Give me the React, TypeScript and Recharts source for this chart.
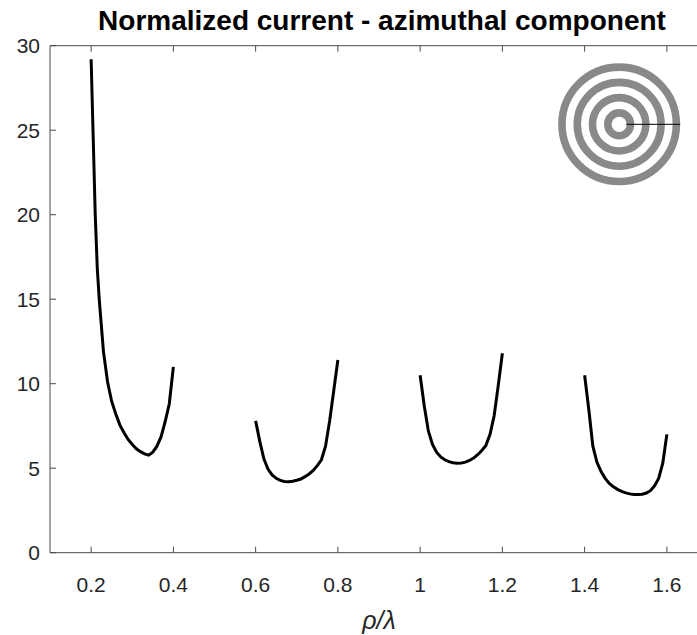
import React from "react";
import { LineChart, Line, XAxis, YAxis, ReferenceDot } from "recharts";

const title = "Normalized current - azimuthal component";
const xLabel = "ρ/λ";

const xTicks = [0.2, 0.4, 0.6, 0.8, 1, 1.2, 1.4, 1.6];
const yTicks = [0, 5, 10, 15, 20, 25, 30];

const xs1 = [0.2, 0.205, 0.21, 0.215, 0.22, 0.23, 0.24, 0.25, 0.26, 0.27, 0.28, 0.29, 0.3, 0.31, 0.32, 0.33, 0.34, 0.35, 0.36, 0.37, 0.38, 0.39, 0.4];
const v1 = [29.2, 24.6, 20.0, 16.8, 14.9, 11.9, 10.1, 8.95, 8.2, 7.55, 7.1, 6.7, 6.4, 6.15, 5.98, 5.85, 5.77, 5.95, 6.3, 6.85, 7.75, 8.8, 11.0];

const xs2 = [0.6, 0.61, 0.62, 0.63, 0.64, 0.65, 0.66, 0.67, 0.68, 0.69, 0.7, 0.71, 0.72, 0.73, 0.74, 0.75, 0.76, 0.77, 0.78, 0.79, 0.8];
const v2 = [7.8, 6.6, 5.55, 4.95, 4.6, 4.4, 4.28, 4.21, 4.2, 4.23, 4.29, 4.36, 4.5, 4.66, 4.87, 5.15, 5.5, 6.3, 7.8, 9.6, 11.4];

const xs3 = [1.0, 1.01, 1.02, 1.03, 1.04, 1.05, 1.06, 1.07, 1.08, 1.09, 1.1, 1.11, 1.12, 1.13, 1.14, 1.15, 1.16, 1.17, 1.18, 1.19, 1.2];
const v3 = [10.5, 8.7, 7.2, 6.4, 5.95, 5.67, 5.5, 5.39, 5.32, 5.29, 5.3, 5.36, 5.46, 5.6, 5.8, 6.05, 6.35, 7.0, 8.1, 9.9, 11.8];

const xs4 = [1.4, 1.41, 1.42, 1.43, 1.44, 1.45, 1.46, 1.47, 1.48, 1.49, 1.5, 1.51, 1.52, 1.53, 1.54, 1.55, 1.56, 1.57, 1.58, 1.59, 1.6];
const v4 = [10.5, 8.5, 6.3, 5.35, 4.8, 4.4, 4.1, 3.9, 3.75, 3.63, 3.54, 3.48, 3.45, 3.44, 3.46, 3.53, 3.67, 3.95, 4.4, 5.3, 7.0];

// inset (concentric rings) anchor in data coordinates
const insetX = 1.484;
const insetY = 25.35;

const toRows = (xs: number[], vs: number[]) => xs.map((x, i) => ({ x, v: vs[i] }));
const segments = [toRows(xs1, v1), toRows(xs2, v2), toRows(xs3, v3), toRows(xs4, v4)];

const AXIS = "#4a4a4a";
const TEXT = "#262626";
const FONT = "'Liberation Sans', Arial, Helvetica, sans-serif";

const BottomTick = (props: any) => {
  const { x, y, payload } = props;
  return (
    <g>
      <line x1={x} y1={y} x2={x} y2={y - 6} stroke={AXIS} strokeWidth={1} />
      <text x={x} y={y + 39} textAnchor="middle" fontSize={21} fill={TEXT} fontFamily={FONT}>
        {String(payload.value)}
      </text>
    </g>
  );
};

const TopTick = (props: any) => {
  const { x, y } = props;
  return <line x1={x} y1={y} x2={x} y2={y + 6} stroke={AXIS} strokeWidth={1} />;
};

const LeftTick = (props: any) => {
  const { x, y, payload } = props;
  return (
    <g>
      <line x1={x} y1={y} x2={x + 6} y2={y} stroke={AXIS} strokeWidth={1} />
      <text x={x - 10} y={y + 7.5} textAnchor="end" fontSize={21} fill={TEXT} fontFamily={FONT}>
        {String(payload.value)}
      </text>
    </g>
  );
};

const InsetRings = (props: any) => {
  const { cx, cy } = props;
  const bands = [
    [7.6, 15.2],
    [22.9, 30.5],
    [38.1, 45.7],
    [53.4, 61],
  ];
  return (
    <g>
      {bands.map(([a, b], i) => (
        <circle key={i} cx={cx} cy={cy} r={(a + b) / 2} fill="none" stroke="#898989" strokeWidth={b - a} />
      ))}
      <line x1={cx + 7} y1={cy} x2={cx + 61} y2={cy} stroke="#000" strokeWidth={1.2} strokeOpacity={0.8} />
    </g>
  );
};

export default function App() {
  return (
    <div
      style={{
        position: "absolute",
        left: 0,
        top: 0,
        width: 697,
        height: 635,
        overflow: "hidden",
        background: "#fff",
      }}
    >
      <LineChart width={708} height={635} margin={{ top: 44.7, right: 0, bottom: 0, left: 0 }}>
        <XAxis
          xAxisId="bottom"
          dataKey="x"
          type="number"
          domain={[0.1, 1.7]}
          ticks={xTicks}
          allowDataOverflow
          height={82.3}
          tickSize={0}
          tickMargin={0}
          tickLine={false}
          axisLine={{ stroke: AXIS, strokeWidth: 1 }}
          tick={<BottomTick />}
          interval={0}
        />
        <XAxis
          xAxisId="top"
          orientation="top"
          dataKey="x"
          type="number"
          domain={[0.1, 1.7]}
          ticks={xTicks}
          allowDataOverflow
          height={1}
          tickSize={0}
          tickMargin={0}
          tickLine={false}
          axisLine={{ stroke: AXIS, strokeWidth: 1 }}
          tick={<TopTick />}
          interval={0}
        />
        <YAxis
          type="number"
          domain={[0, 30]}
          ticks={yTicks}
          width={50}
          tickSize={0}
          tickMargin={0}
          tickLine={false}
          axisLine={{ stroke: AXIS, strokeWidth: 1 }}
          tick={<LeftTick />}
          interval={0}
        />
        {segments.map((seg, i) => (
          <Line
            key={i}
            xAxisId="bottom"
            data={seg}
            dataKey="v"
            type="linear"
            stroke="#000"
            strokeWidth={3}
            dot={false}
            activeDot={false}
            isAnimationActive={false}
          />
        ))}
        <ReferenceDot
          xAxisId="bottom"
          x={insetX}
          y={insetY}
          r={61}
          ifOverflow="visible"
          shape={InsetRings}
        />
      </LineChart>
      <div
        style={{
          position: "absolute",
          left: 0,
          top: 6,
          width: 764,
          textAlign: "center",
          fontFamily: FONT,
          fontWeight: "bold",
          fontSize: 28,
          color: "#000",
          whiteSpace: "nowrap",
          lineHeight: "30px",
        }}
      >
        {title}
      </div>
      <div
        style={{
          position: "absolute",
          left: 0,
          top: 605,
          width: 758,
          textAlign: "center",
          fontFamily: FONT,
          fontStyle: "italic",
          fontSize: 25,
          color: TEXT,
          whiteSpace: "nowrap",
          lineHeight: "30px",
        }}
      >
        {xLabel}
      </div>
    </div>
  );
}
